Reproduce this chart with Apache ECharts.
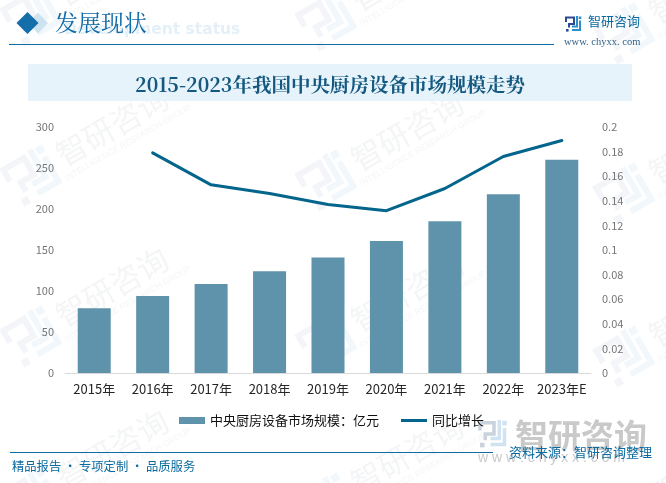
<!DOCTYPE html>
<html>
<head>
<meta charset="utf-8">
<style>
  html, body { margin: 0; padding: 0; background: #fff; }
  #chart { width: 666px; height: 483px; }
</style>
<script src="https://cdn.jsdelivr.net/npm/echarts@6/dist/echarts.min.js"></script>
</head>
<body>
<div id="chart"></div>
<script>
const categories = ['2015年', '2016年', '2017年', '2018年', '2019年', '2020年', '2021年', '2022年', '2023年E']
const marketSize = [79, 94, 108.5, 124, 141, 161, 185, 218, 260]
const growth = [null, 0.179, 0.153, 0.146, 0.137, 0.132, 0.150, 0.176, 0.189]
const leftTicks = [0, 300, 50]
const rightTicks = [0, 0.2, 0.02]

const sans = '"Noto Sans CJK SC", sans-serif'
const serif = '"Noto Serif CJK SC", "Noto Sans CJK SC", "Liberation Serif", serif'
const markColor = '#5f93ab'
const lineColor = '#04658c'
const blue = '#0f6aa5'

// the P2 shaped logo, drawn on a 16 unit square
function logo (x, y, scale, rotation, dark, light, z) {
  const stroke = (points, color) => ({
    type: 'polyline', shape: {points},
    style: {stroke: color, fill: null, lineWidth: 2},
  })
  const dot = (dx, dy, color) => ({
    type: 'rect', shape: {x: dx, y: dy, width: 2.6, height: 2.6}, style: {fill: color},
  })
  return {
    type: 'group', x, y, scaleX: scale, scaleY: scale, rotation, silent: true, z,
    children: [
      stroke([[0, 6], [0, 1.5], [8, 1.5], [8, 8], [3, 8], [3, 11.5]], dark),
      dot(0, 13, dark),
      stroke([[11, 0], [11, 10.5], [6, 10.5]], light),
      stroke([[14, 4.5], [14, 14], [6, 14]], light),
      dot(12.7, 0.5, light),
    ].map(c => Object.assign(c, {z})),
  }
}

// faint tiled watermark behind everything
const tilt = Math.PI / 6
const logoSpots = [[30, 12], [325, 17], [623, 30], [30, 172], [325, 177], [623, 190],
  [30, 333], [325, 338], [623, 353], [30, 495], [325, 500], [623, 513]]
const watermarks = []
logoSpots.forEach(p => {
  // group is rotated around its own origin, so start from the logo's top left corner
  watermarks.push(logo(p[0] - 29, p[1] - 6, 3, tilt, '#f3f5f8', '#f1f7fb', 0))
  watermarks.push({
    type: 'text', x: p[0] + 82, y: p[1] - 46, rotation: tilt, silent: true, z: 0,
    style: {text: '智研咨询', font: '31px ' + sans, fill: '#f4f5f6', textAlign: 'center', textVerticalAlign: 'middle'},
  })
  watermarks.push({
    type: 'text', x: p[0] + 98, y: p[1] - 29, rotation: tilt, silent: true, z: 0,
    style: {text: 'INTELLIGENCE RESEARCH GROUP', font: '8.5px "Liberation Sans"', fill: '#f4f5f6', textAlign: 'center', textVerticalAlign: 'middle'},
  })
})

const chart = echarts.init(document.getElementById('chart'), null, {renderer: 'canvas'})
chart.setOption({
  animation: false,
  backgroundColor: '#fff',
  grid: {left: 65, right: 75, top: 127, height: 246},
  legend: {
    left: 179, top: 414, padding: 0, itemGap: 22, itemWidth: 26, itemHeight: 7,
    textStyle: {fontFamily: sans, fontSize: 13, color: '#111'},
    data: [
      {name: '中央厨房设备市场规模：亿元', icon: 'rect'},
      {name: '同比增长', icon: 'path://M0 0H26V3H0Z'},
    ],
  },
  xAxis: {
    type: 'category', data: categories,
    axisLine: {lineStyle: {color: '#d9d9d9', width: 1}},
    axisTick: {show: false},
    axisLabel: {fontFamily: sans, fontSize: 13, color: '#262626', margin: 10, interval: 0},
  },
  yAxis: [
    {
      type: 'value', min: leftTicks[0], max: leftTicks[1], interval: leftTicks[2],
      axisLine: {show: false}, axisTick: {show: false}, splitLine: {show: false},
      axisLabel: {fontFamily: sans, fontSize: 11, color: '#757575', margin: 11},
    },
    {
      type: 'value', min: rightTicks[0], max: rightTicks[1], interval: rightTicks[2],
      axisLine: {show: false}, axisTick: {show: false}, splitLine: {show: false},
      axisLabel: {fontFamily: sans, fontSize: 11, color: '#757575', margin: 11,
        formatter: v => String(+v.toFixed(2))},
    },
  ],
  series: [
    {
      name: '中央厨房设备市场规模：亿元', type: 'bar', data: marketSize, barWidth: 33,
      itemStyle: {color: markColor}, z: 3,
    },
    {
      name: '同比增长', type: 'line', yAxisIndex: 1, data: growth, symbol: 'none',
      lineStyle: {color: lineColor, width: 3, cap: 'round'}, itemStyle: {color: lineColor}, z: 4,
    },
  ],
  graphic: watermarks.concat([
    // header
    {type: 'rect', shape: {x: 28, y: 64, width: 604, height: 37}, style: {fill: '#e6f3fb'}, z: 1},
    {type: 'polygon', shape: {points: [[38, 12.5], [48, 23], [38, 33.5], [28, 23]]}, style: {fill: '#cde3ef'}, z: 1},
    {type: 'polygon', shape: {points: [[27.5, 12], [38.5, 23], [27.5, 34], [16.5, 23]]}, style: {fill: '#136ea9'}, z: 2},
    {type: 'text', x: 64, y: 22, z: 1, style: {text: 'Development status', font: 'bold 15.5px "DejaVu Sans"', fill: '#e3f0f8'}},
    {type: 'text', x: 55, y: 11, z: 2, style: {text: '发展现状', font: '23px ' + serif, fill: blue}},
    {type: 'rect', shape: {x: 9, y: 44, width: 545, height: 1}, style: {fill: blue}, z: 2},
    {type: 'text', x: 330, y: 85, z: 2, style: {text: '2015-2023年我国中央厨房设备市场规模走势', font: 'bold 19.5px ' + serif, fill: '#14587f', textAlign: 'center', textVerticalAlign: 'middle'}},
    // logo
    logo(566, 16, 1, 0, '#2c4a8f', '#2c8ecb', 2),
    {type: 'text', x: 588, y: 15, z: 2, style: {text: '智研咨询', font: '13px ' + sans, fill: '#0a6aa0'}},
    {type: 'text', x: 564, y: 37, z: 2, style: {text: 'www. chyxx. com', font: '10.5px "Liberation Serif"', fill: '#2f5f86'}},
    // footer
    {type: 'rect', shape: {x: 10, y: 452, width: 483, height: 1}, style: {fill: blue}, z: 2},
    {type: 'text', x: 12, y: 460, z: 2, style: {text: '精品报告 · 专项定制 · 品质服务', font: '12.3px ' + sans, fill: '#0a6aa0'}},
    logo(480, 420, 1.75, 0, '#c9d3dd', '#cfe3f2', 1),
    {type: 'text', x: 581, y: 435, z: 1, style: {text: '智研咨询', font: 'bold 33px ' + sans, fill: '#c9c9c9', textAlign: 'center', textVerticalAlign: 'middle'}},
    {type: 'text', x: 478, y: 451, z: 1, style: {text: 'w w w . c h y x x . c o m', font: '14px "Liberation Sans"', fill: '#c9c9c9'}},
    {type: 'text', x: 509, y: 446, z: 3, style: {text: '资料来源：智研咨询整理', font: '13px ' + sans, fill: '#0a6aa0'}},
  ]),
})
</script>
</body>
</html>
